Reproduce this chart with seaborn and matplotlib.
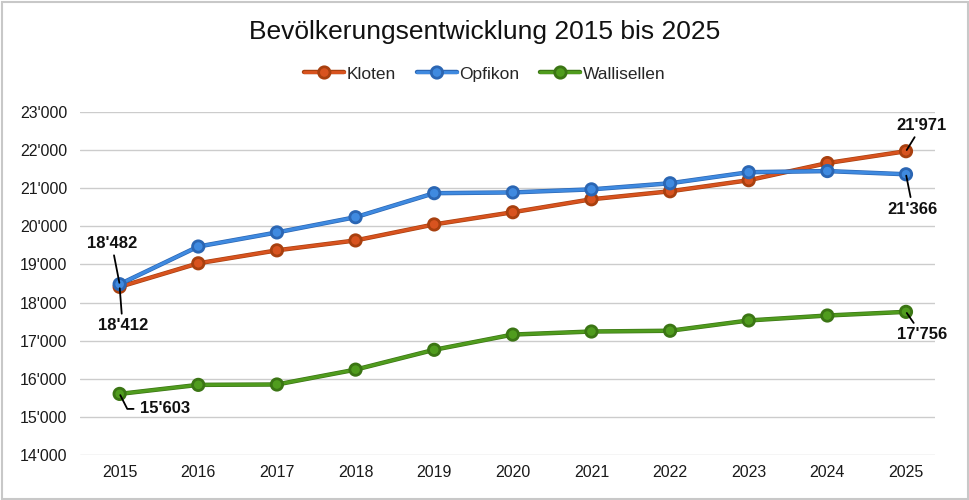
import numpy as np
import pandas as pd
import matplotlib
matplotlib.use("Agg")
import matplotlib.pyplot as plt
import matplotlib.patheffects as pe
from matplotlib.ticker import FuncFormatter
from matplotlib.lines import Line2D
import seaborn as sns

# daten
jahre = [2015, 2016, 2017, 2018, 2019, 2020, 2021, 2022, 2023, 2024, 2025]
kloten = [18412, 19030, 19370, 19630, 20050, 20370, 20710, 20920, 21210, 21660, 21971]
opfikon = [18482, 19470, 19840, 20240, 20870, 20890, 20970, 21130, 21420, 21450, 21366]
wallisellen = [15603, 15840, 15850, 16240, 16760, 17160, 17240, 17260, 17530, 17660, 17756]
gemeinden = ["Kloten", "Opfikon", "Wallisellen"]
farben = ["#D8531F", "#3F8AE0", "#509C1E"]
kanten = ["#A8400F", "#2B66B3", "#3B7514"]

df = pd.DataFrame({
    "Jahr": jahre * 3,
    "Einwohner": kloten + opfikon + wallisellen,
    "Gemeinde": [g for g in gemeinden for _ in jahre],
})

sns.set_style("white")
plt.rcParams["font.family"] = ["Liberation Sans", "DejaVu Sans"]

fig = plt.figure(figsize=(9.7, 5), dpi=100)
ax = fig.add_axes([0.082, 0.09, 0.882, 0.686])

sns.lineplot(data=df, x="Jahr", y="Einwohner", hue="Gemeinde", palette=farben,
             marker="o", markersize=7, linewidth=2.2, ax=ax, legend=False, zorder=3)

for line, k in zip(ax.lines, kanten):
    line.set_path_effects([pe.Stroke(linewidth=3.2, foreground=k), pe.Normal()])
    line.set_markeredgecolor(k)
    line.set_markeredgewidth(0.8)

ax.set_xlim(2014.49, 2025.37)
ax.set_ylim(14000, 23000)
ax.set_xticks(jahre)
ax.set_yticks(range(14000, 23001, 1000))
ax.yaxis.set_major_formatter(FuncFormatter(lambda v, p: f"{int(v):,}".replace(",", "'")))
ax.grid(axis="y", color="#CCCCCC", linewidth=1)
ax.set_axisbelow(True)
for s in ax.spines.values():
    s.set_visible(False)
ax.tick_params(axis="both", length=0, labelsize=11.5, colors="#1A1A1A")
ax.tick_params(axis="y", pad=9)
ax.tick_params(axis="x", pad=7)
ax.set_xlabel("")
ax.set_ylabel("")

fig.suptitle("Bevölkerungsentwicklung 2015 bis 2025", y=0.96, fontsize=19, color="#111111")

# legende
handles = [Line2D([0], [0], color=f, lw=2.2, marker="o", markersize=7,
                  markeredgecolor=k, markeredgewidth=0.8,
                  path_effects=[pe.Stroke(linewidth=3.2, foreground=k), pe.Normal()])
           for f, k in zip(farben, kanten)]
fig.legend(handles, gemeinden, loc="center", bbox_to_anchor=(0.5, 0.852), ncol=3,
           frameon=False, fontsize=12.5, handlelength=2.3, handletextpad=0.15,
           columnspacing=1.2)

# beschriftungen (versatz in pixeln)
fmt = lambda v: f"{v:,}".replace(",", "'")
pfeil = dict(arrowstyle="-", color="black", lw=1.3, shrinkA=1, shrinkB=1)
stil = dict(textcoords="offset pixels", fontsize=12, fontweight="bold",
            color="#111111", va="center")
ax.annotate(fmt(opfikon[0]), xy=(jahre[0], opfikon[0]), xytext=(-8, 41),
            ha="center", arrowprops=pfeil, **stil)
ax.annotate(fmt(kloten[0]), xy=(jahre[0], kloten[0]), xytext=(3, -39),
            ha="center", arrowprops=pfeil, **stil)
ax.annotate(fmt(wallisellen[0]), xy=(jahre[0], wallisellen[0]), xytext=(20, -15),
            ha="left", arrowprops=dict(pfeil, shrinkA=2,
                                       connectionstyle="angle,angleA=0,angleB=-63,rad=0"),
            **stil)
ax.annotate(fmt(kloten[-1]), xy=(jahre[-1], kloten[-1]), xytext=(16, 26),
            ha="center", arrowprops=pfeil, **stil)
ax.annotate(fmt(opfikon[-1]), xy=(jahre[-1], opfikon[-1]), xytext=(7, -35),
            ha="center", arrowprops=pfeil, **stil)
ax.annotate(fmt(wallisellen[-1]), xy=(jahre[-1], wallisellen[-1]), xytext=(16, -23),
            ha="center", arrowprops=pfeil, **stil)

# rahmen
fig.patches.append(plt.Rectangle((0.002, 0.003), 0.996, 0.994, transform=fig.transFigure,
                                 fill=False, edgecolor="#C8C8C8", linewidth=1.5))

fig.savefig("out.png", dpi=100)
